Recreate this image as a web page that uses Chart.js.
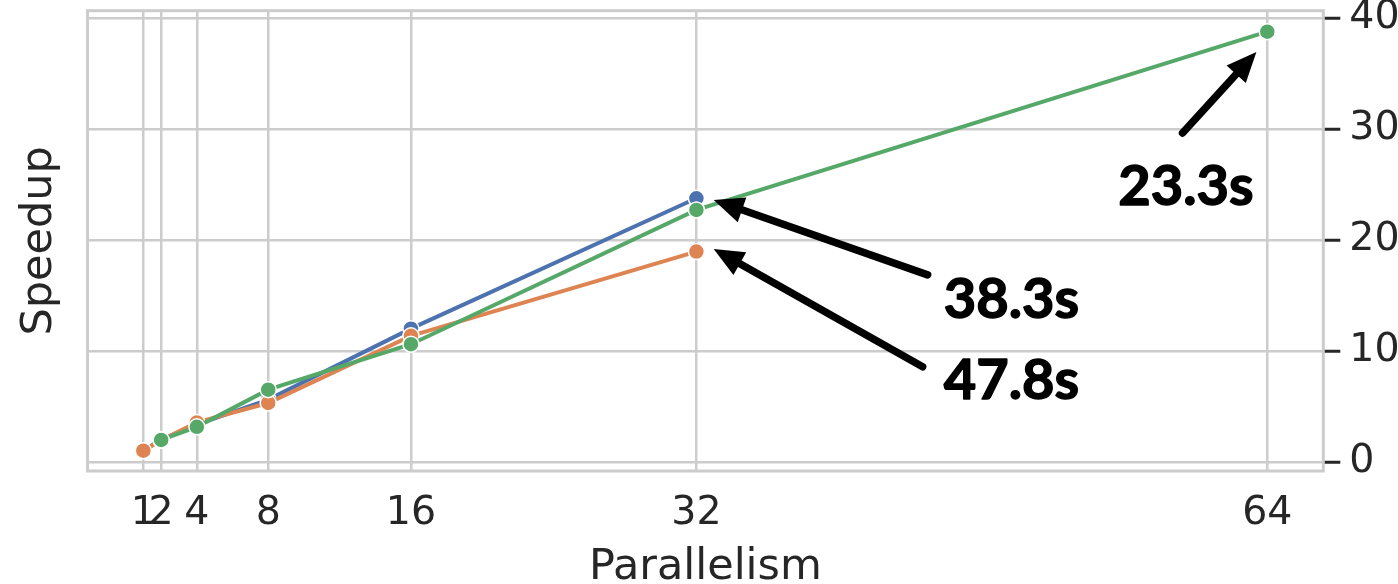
<!DOCTYPE html>
<html>
<head>
<meta charset="utf-8">
<style>
  html, body { margin: 0; padding: 0; background: #ffffff; overflow: hidden; }
  #wrap { width: 1398px; height: 584px; position: relative; }
</style>
<script src="https://cdn.jsdelivr.net/npm/chart.js@4.4.1/dist/chart.umd.min.js"></script>
</head>
<body>
<div id="wrap"><canvas id="c" width="1398" height="584"></canvas></div>
<script>
// Parallelism levels measured for each configuration
const parallelism = [1, 2, 4, 8, 16, 32];
const parallelismGreen = [2, 4, 8, 16, 32, 64];

// Speedup per configuration
const speedupBlue = [1.0, 2.0, 3.35, 5.6, 12.0, 23.75];
const speedupOrange = [1.0, 1.95, 3.55, 5.3, 11.35, 18.95];
const speedupGreen = [1.97, 3.15, 6.5, 10.6, 22.7, 38.77];

// Axis ticks
const xTicks = [1, 2, 4, 8, 16, 32, 64];
const yTicks = [0, 10, 20, 30, 40];

// Runtime callouts
const runtimeLabels = ['38.3s', '47.8s', '23.3s'];

const COLORS = { blue: '#4C72B0', orange: '#DD8452', green: '#55A868' };
const GRID = '#cccccc';
const INK = '#262626';

// Callout geometry in data units: arrow tip, arrow tail, text anchor (center / baseline)
const calloutGeom = [
  { tip: [32.97, 23.6], tail: [44.96, 16.85], at: [49.66, 12.97] },
  { tip: [32.97, 19.19], tail: [44.68, 8.56], at: [49.66, 5.68] },
  { tip: [63.39, 36.94], tail: [59.25, 29.64], at: [59.44, 23.15] }
];

function points(xs, ys) {
  return xs.map((x, i) => ({ x: x, y: ys[i] }));
}

function series(label, xs, ys, color, order) {
  return {
    label: label,
    data: points(xs, ys),
    order: order,
    borderColor: color,
    backgroundColor: color,
    borderWidth: 4,
    pointRadius: 8,
    pointHoverRadius: 8,
    pointBackgroundColor: color,
    pointBorderColor: '#ffffff',
    pointBorderWidth: 1.5,
    tension: 0,
    fill: false
  };
}

// Light frame around the plotting area
const framePlugin = {
  id: 'frame',
  beforeDatasetsDraw(chart) {
    const { ctx, chartArea: a } = chart;
    ctx.save();
    ctx.strokeStyle = GRID;
    ctx.lineWidth = 3;
    ctx.strokeRect(a.left, a.top, a.right - a.left, a.bottom - a.top);
    ctx.restore();
  }
};

// Y title sits on the left while the tick labels are on the right
const leftTitlePlugin = {
  id: 'leftTitle',
  afterDraw(chart) {
    const ctx = chart.ctx;
    const a = chart.chartArea;
    ctx.save();
    ctx.translate(51, (a.top + a.bottom) / 2);
    ctx.rotate(-Math.PI / 2);
    ctx.font = '43px "DejaVu Sans"';
    ctx.fillStyle = INK;
    ctx.textAlign = 'center';
    ctx.textBaseline = 'alphabetic';
    ctx.fillText('Speedup', 0, 0);
    ctx.restore();
  }
};

function drawArrow(ctx, x1, y1, x2, y2) {
  const ang = Math.atan2(y2 - y1, x2 - x1);
  const headLen = 30, headHalf = 13;
  const c = Math.cos(ang), s = Math.sin(ang);
  const bx = x2 - headLen * c, by = y2 - headLen * s;
  ctx.strokeStyle = '#000000';
  ctx.fillStyle = '#000000';
  ctx.lineWidth = 7.5;
  ctx.lineCap = 'round';
  ctx.beginPath();
  ctx.moveTo(x1, y1);
  ctx.lineTo(bx + 4 * c, by + 4 * s);
  ctx.stroke();
  ctx.beginPath();
  ctx.moveTo(x2, y2);
  ctx.lineTo(bx + headHalf * s, by - headHalf * c);
  ctx.lineTo(bx - headHalf * s, by + headHalf * c);
  ctx.closePath();
  ctx.fill();
}

const calloutPlugin = {
  id: 'callouts',
  afterDatasetsDraw(chart) {
    const ctx = chart.ctx;
    const xs = chart.scales.x, ys = chart.scales.y;
    ctx.save();
    calloutGeom.forEach((g, i) => {
      drawArrow(ctx,
        xs.getPixelForValue(g.tail[0]), ys.getPixelForValue(g.tail[1]),
        xs.getPixelForValue(g.tip[0]), ys.getPixelForValue(g.tip[1]));
      const tx = xs.getPixelForValue(g.at[0]), ty = ys.getPixelForValue(g.at[1]);
      ctx.font = 'bold 56px Lato';
      ctx.fillStyle = '#000000';
      ctx.strokeStyle = '#000000';
      ctx.lineWidth = 1.4;
      ctx.lineJoin = 'round';
      ctx.textAlign = 'center';
      ctx.textBaseline = 'alphabetic';
      ctx.fillText(runtimeLabels[i], tx, ty);
      ctx.strokeText(runtimeLabels[i], tx, ty);
    });
    ctx.restore();
  }
};

new Chart(document.getElementById('c'), {
  type: 'line',
  data: {
    datasets: [
      series('blue', parallelism, speedupBlue, COLORS.blue, 2),
      series('orange', parallelism, speedupOrange, COLORS.orange, 1),
      series('green', parallelismGreen, speedupGreen, COLORS.green, 0)
    ]
  },
  options: {
    responsive: false,
    animation: false,
    devicePixelRatio: 1,
    layout: { padding: { left: 87.5, top: 10.7, right: 0, bottom: 0 } },
    plugins: {
      legend: { display: false },
      tooltip: { enabled: false }
    },
    scales: {
      x: {
        type: 'linear',
        position: 'bottom',
        min: -2.13,
        max: 67.14,
        afterBuildTicks: s => { s.ticks = xTicks.map(v => ({ value: v })); },
        afterFit: s => { s.height = 113; s.paddingLeft = 0; s.paddingRight = 0; },
        grid: { color: GRID, lineWidth: 2.5, drawTicks: false },
        border: { display: false },
        ticks: {
          autoSkip: false,
          maxRotation: 0,
          minRotation: 0,
          padding: 19,
          color: INK,
          font: { family: 'DejaVu Sans', size: 39.5, lineHeight: 1.2 }
        },
        title: {
          display: true,
          text: 'Parallelism',
          color: INK,
          padding: 0,
          font: { family: 'DejaVu Sans', size: 43, lineHeight: 0.74 }
        }
      },
      y: {
        type: 'linear',
        position: 'right',
        min: -0.83,
        max: 40.66,
        afterBuildTicks: s => { s.ticks = yTicks.map(v => ({ value: v })); },
        afterFit: s => { s.width = 74.7; s.paddingTop = 0; s.paddingBottom = 0; },
        grid: { color: GRID, lineWidth: 2.5, tickColor: INK, tickWidth: 3, tickLength: 17, drawTicks: true },
        border: { display: false },
        ticks: {
          padding: 9,
          color: INK,
          font: { family: 'DejaVu Sans', size: 39.5, lineHeight: 1.2 }
        }
      }
    }
  },
  plugins: [framePlugin, leftTitlePlugin, calloutPlugin]
});
</script>
</body>
</html>
